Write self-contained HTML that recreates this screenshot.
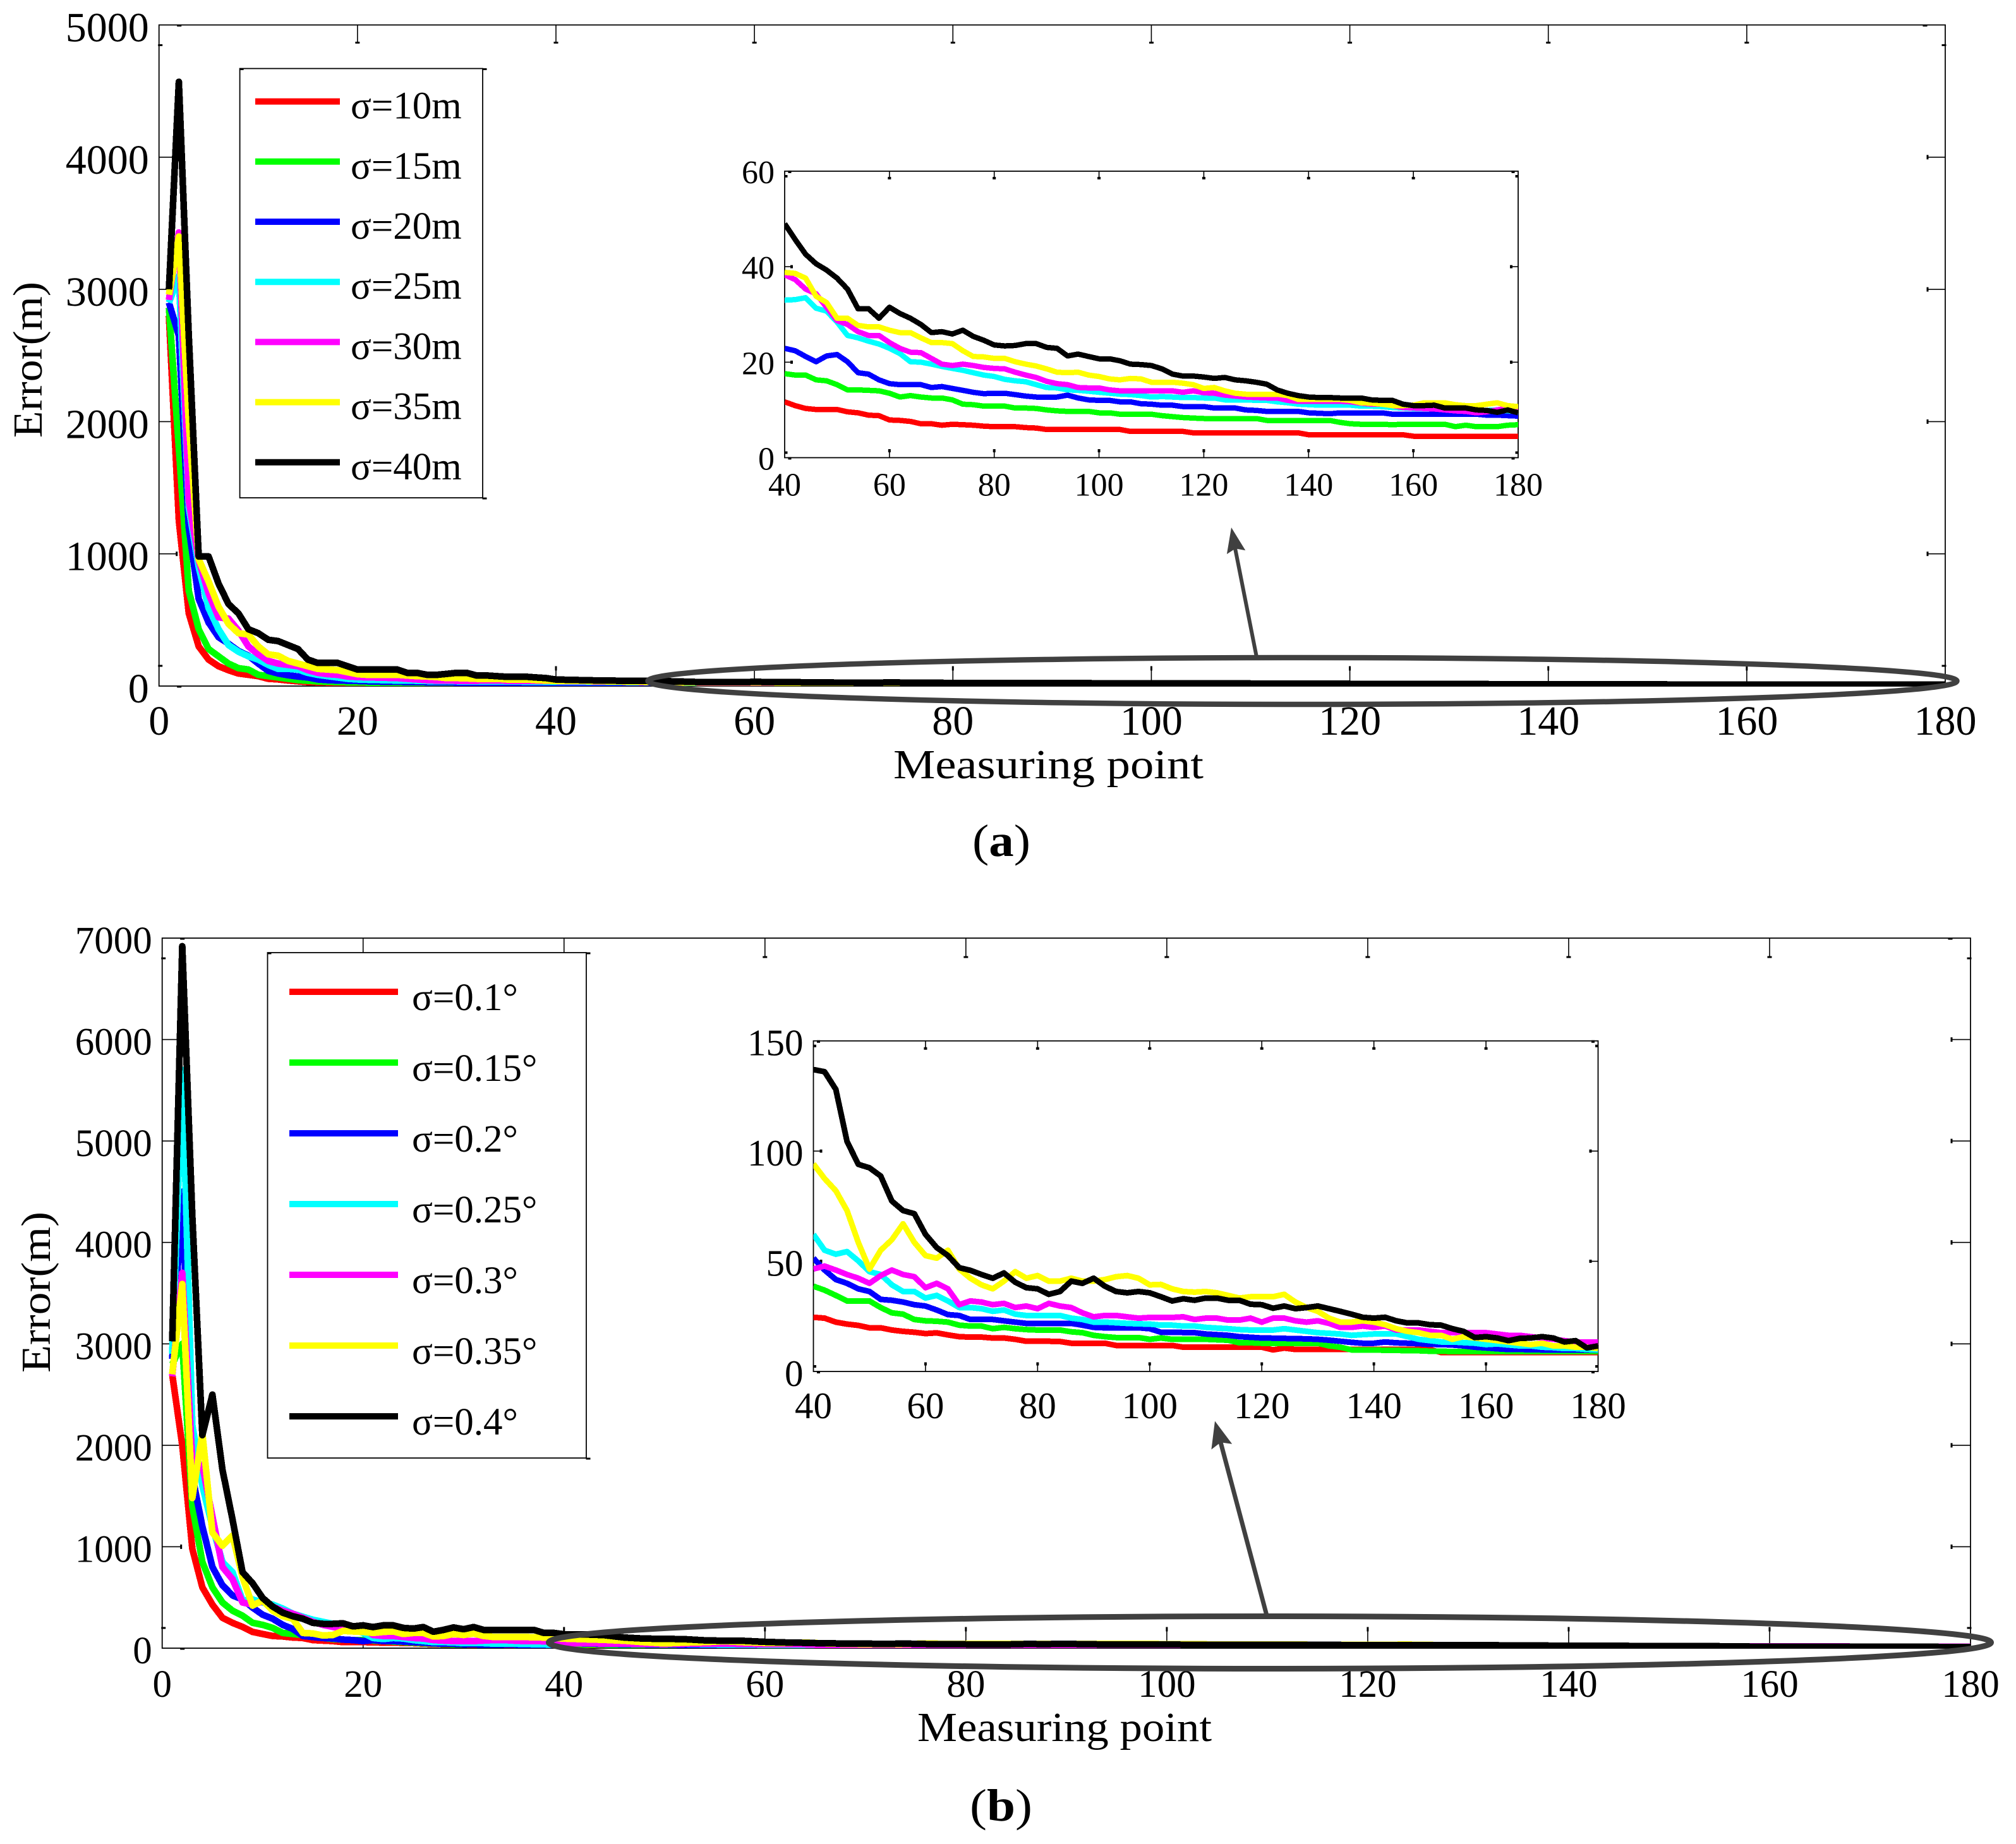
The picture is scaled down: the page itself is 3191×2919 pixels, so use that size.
<!DOCTYPE html>
<html lang="en">
<head>
<meta charset="utf-8">
<title>Error versus measuring point</title>
<style>
html,body{margin:0;padding:0;background:#fff;}
svg{display:block;}
text{font-family:"Liberation Serif","Noto Serif CJK SC",serif;fill:#000;}
</style>
</head>
<body>
<svg id="figure" xmlns="http://www.w3.org/2000/svg" width="3191" height="2919" viewBox="0 0 3191 2919">
  <rect x="0" y="0" width="3191" height="2919" fill="#fff"/>
  <g id="panelA"></g>
  <g id="panelB"></g>

  <g>
    <ellipse cx="2061.5" cy="1078" rx="1036" ry="37" fill="none" stroke="#404040" stroke-width="8.5"/>
    <line x1="1989" y1="1040" x2="1955" y2="868" stroke="#404040" stroke-width="6"/>
    <polygon points="1949,835 1971.3,871.3 1955.5,868.4 1941.9,877.1" fill="#404040"/>
  </g>
  <g>
    <ellipse cx="2010" cy="2600" rx="1141.5" ry="41.5" fill="none" stroke="#404040" stroke-width="9"/>
    <line x1="2005" y1="2557" x2="1932" y2="2283" stroke="#404040" stroke-width="7"/>
    <polygon points="1923,2249.5 1950.2,2285.7 1932,2283.3 1917.4,2294.5" fill="#404040"/>
  </g>

  <text transform="translate(66,693) rotate(-90)" font-size="66" textLength="247" lengthAdjust="spacingAndGlyphs">Error(m)</text>
  <text x="1414" y="1232" font-size="66" textLength="491" lengthAdjust="spacingAndGlyphs">Measuring point</text>
  <text x="1539" y="1355" font-size="72" textLength="92" lengthAdjust="spacingAndGlyphs">(<tspan font-weight="bold">a</tspan>)</text>

  <text transform="translate(79,2173) rotate(-90)" font-size="66" textLength="255" lengthAdjust="spacingAndGlyphs">Error(m)</text>
  <text x="1452" y="2756" font-size="66" textLength="466" lengthAdjust="spacingAndGlyphs">Measuring point</text>
  <text x="1535" y="2882" font-size="72" textLength="99" lengthAdjust="spacingAndGlyphs">(<tspan font-weight="bold">b</tspan>)</text>
</svg>

<script>
// Shared measuring points
const earlyPoints = [1,2,3,4,5,6,7,8,9,10,11,12,13,14,15,16,17,18,19,20,21,22,23,24,25,26,27,28,29,30,31,32,33,34,35,36,37,38,39];
const tailPoints = [40,42,44,46,48,50,52,54,56,58,60,62,64,66,68,70,72,74,76,78,80,82,84,86,88,90,92,94,96,98,100,102,104,106,108,110,112,114,116,118,120,122,124,126,128,130,132,134,136,138,140,142,144,146,148,150,152,154,156,158,160,162,164,166,168,170,172,174,176,178,180];

// Panel (a) tick labels and legend
const mainXTicks = [0,20,40,60,80,100,120,140,160,180];
const insetXTicks = [40,60,80,100,120,140,160,180];
const aMainYTicks = [0,1000,2000,3000,4000,5000];
const aInsetYTicks = [0,20,40,60];
const aLegendLabels = ['σ=10m','σ=15m','σ=20m','σ=25m','σ=30m','σ=35m','σ=40m'];

// Panel (a) values for points 1-39
const aRedEarly = [2800,1250,550,300,200,150,120,95,85,75,55,50,42,36,30,28,26,24,22,20,18,15,14,14,13,13,12,12,12,11,11,11,11,11,11,11,11,11,11];
const aGreenEarly = [2860,1800,720,430,280,225,170,135,125,85,75,65,55,45,40,35,32,30,28,28,26,24,22,22,20,20,20,20,19,19,19,18,18,18,18,18,18,17,17];
const aBlueEarly = [2900,2650,1200,660,480,370,320,265,230,170,115,95,82,72,65,50,45,42,40,38,36,34,32,32,30,30,28,27,27,26,26,25,25,25,24,24,23,23,23];
const aCyanEarly = [2900,3100,1350,900,590,430,310,260,225,200,160,130,130,125,100,85,75,65,55,50,48,46,44,42,42,40,38,38,38,36,36,36,36,34,34,34,33,33,33];
const aMagentaEarly = [2920,3430,1400,950,700,520,510,420,300,240,190,170,160,150,120,100,90,85,72,68,66,64,62,60,55,50,45,42,42,40,40,40,42,42,40,40,40,40,39];
const aYellowEarly = [2960,3400,2000,960,790,600,470,400,390,300,240,230,190,170,150,130,125,120,105,90,85,85,85,85,80,75,72,68,60,60,58,55,55,55,50,50,50,45,42];
const aBlackEarly = [3000,4570,2650,980,980,775,620,550,430,400,350,340,310,280,200,175,175,175,150,125,125,125,125,125,100,100,85,85,92,100,100,80,80,75,70,70,70,65,60];

// Panel (a) values for points 40-180
const aRedTail = [11.7,10.9,10.3,10.1,10.1,10.1,9.6,9.4,8.9,8.8,
7.9,7.8,7.6,7.1,7.1,6.8,7,6.9,6.8,6.6,
6.5,6.5,6.5,6.3,6.2,5.9,5.9,5.9,5.9,5.9,
5.9,5.9,5.9,5.5,5.5,5.5,5.5,5.5,5.5,5.2,
5.2,5.2,5.2,5.2,5.2,5.2,5.2,5.2,5.2,5.2,
4.8,4.8,4.8,4.8,4.8,4.8,4.8,4.8,4.8,4.8,
4.5,4.5,4.5,4.5,4.5,4.5,4.5,4.5,4.5,4.5,
4.5];
const aGreenTail = [17.6,17.3,17.3,16.3,16.1,15.3,14.2,14.2,14.1,14,
13.5,12.7,13,12.7,12.5,12.5,12.1,11.2,11.1,10.8,
10.8,10.8,10.4,10.4,10.3,10,9.8,9.7,9.7,9.7,
9.4,9.4,9.1,9.1,9.1,9.1,8.8,8.6,8.4,8.3,
8.2,8.2,8.2,8.2,8.2,8.2,7.8,7.8,7.8,7.8,
7.8,7.8,7.8,7.4,7.1,7,7,7,6.9,7,
7,7,7,7,6.5,6.8,6.5,6.5,6.5,6.8,
6.9];
const aBlueTail = [22.9,22.4,21.2,20.1,21.3,21.6,20.1,17.8,17.5,16.3,
15.5,15.3,15.3,15.3,14.7,14.9,14.5,14.1,13.7,13.4,
13.5,13.5,13.2,12.9,12.7,12.7,12.7,13.1,12.5,12.1,
12,12,11.7,11.7,11.3,11.2,11,11,10.7,10.7,
10.7,10.4,10.4,10.4,10,9.9,9.7,9.7,9.7,9.7,
9.4,9.3,9.2,9.4,9.4,9.4,9.4,9.4,9.1,9.1,
9.1,9.1,9.1,9.1,9.1,9.1,9.1,8.9,8.9,8.8,
8.7];
const aCyanTail = [33,33.1,33.5,31.3,30.7,28.4,25.6,25.1,24.4,23.8,
22.9,21.8,20.1,20,19.6,19.1,18.7,18.3,17.8,17.3,
17,16.4,16.1,15.9,15.3,14.7,14.6,14.2,14.1,13.9,
13.7,13.5,13.3,13.2,13,12.7,12.8,12.7,12.6,12.6,
12.5,12.5,12.1,12.1,12.1,12,12,11.7,11.5,11.2,
11.1,11,11,11,11,10.8,10.8,10.7,10.5,10.4,
10.3,10.3,10.2,10.1,10,10,9.9,9.9,10,9.8,
9.7];
const aMagentaTail = [38.3,37.3,35.3,34.3,31.5,28.7,27.9,26.4,25.6,25.6,
24.1,22.9,22.1,22,20.8,19.6,19.3,19.6,19.3,18.9,
18.7,18.6,17.9,17.3,16.8,16,15.5,15.3,14.7,14.6,
14.6,14.2,14,14,14,14,14,14,13.7,14,
13.6,13.5,13.1,12.9,12.7,12.6,12.5,12.5,12,11.8,
11.8,11.8,11.8,11.8,11.7,11.4,11.2,11.2,10.9,10.5,
10.4,10.3,10.2,10,9.8,9.7,9.4,9.6,10,10.4,
10.2];
const aYellowTail = [38.8,38.6,37.6,33.8,32.5,29.2,29.2,27.7,27.4,27.4,
26.7,26.2,26.2,25.1,24.1,24.1,23.9,22.4,21.2,21.1,
20.8,20.8,20.1,19.6,19.2,18.6,17.9,17.8,17.9,17.3,
17,16.5,16.3,16.6,16.5,15.8,15.8,15.8,15.6,15.3,
14.5,14.7,14,13.5,13.3,13.3,13.3,13.3,13,12.2,
12.2,12.2,12.2,12.2,12,11.5,11.4,11.2,10.9,10.9,
11,11.5,11.5,11.5,11.1,10.9,10.9,11.2,11.5,10.9,
10.7];
const aBlackTail = [49,45.7,42.6,40.6,39.3,37.6,35.3,31.2,31.2,29.2,
31.5,30.2,29.2,27.9,26.2,26.4,25.9,26.7,25.4,24.6,
23.6,23.4,23.5,23.9,23.9,23.1,22.9,21.3,21.7,21.2,
20.7,20.7,20.3,19.6,19.5,19.3,18.6,17.5,17.1,17.1,
16.9,16.6,16.8,16.3,16.1,15.8,15.4,14.2,13.5,13,
12.7,12.6,12.6,12.5,12.5,12.5,12.1,12,12,11.2,
10.9,10.9,11,10.4,10.4,10.4,10,9.9,9.5,10,
9.4];

// Panel (b) tick labels and legend
const bMainYTicks = [0,1000,2000,3000,4000,5000,6000,7000];
const bInsetYTicks = [0,50,100,150];
const bLegendLabels = ['σ=0.1°','σ=0.15°','σ=0.2°','σ=0.25°','σ=0.3°','σ=0.35°','σ=0.4°'];

// Panel (b) values for points 1-39
const bRedEarly = [2700,2000,980,600,430,300,250,210,160,140,120,115,105,100,80,75,70,60,60,60,58,55,55,52,50,45,42,40,38,38,36,36,34,34,32,32,30,30,28];
const bGreenEarly = [2800,3000,1400,850,600,450,370,320,250,230,200,150,140,130,120,100,90,85,80,80,75,70,65,60,55,50,46,42,40,40,40,38,36,36,34,32,32,30,30];
const bBlueEarly = [2850,4500,1700,1200,800,620,520,480,400,330,290,230,190,120,110,100,95,85,80,70,80,70,70,65,60,55,48,44,44,40,38,36,36,36,35,32,30,28,26];
const bCyanEarly = [2900,5700,2200,1600,1200,850,750,470,480,450,430,390,340,310,280,260,240,220,190,150,100,90,100,95,80,70,60,60,58,50,52,50,45,45,45,42,40,38,35];
const bMagentaEarly = [2680,3700,1850,1800,1300,800,680,450,430,460,410,370,340,300,260,230,210,190,180,190,130,120,120,110,100,95,80,75,70,70,70,75,80,80,75,70,70,68,62];
const bYellowEarly = [2700,3590,1480,2120,1140,1010,1110,700,420,470,370,315,290,150,145,125,130,170,165,160,150,160,165,140,150,150,115,120,140,130,145,120,110,110,110,110,108,105,100];
const bBlackEarly = [3025,6920,4260,2100,2500,1760,1270,750,640,495,410,350,315,290,250,240,240,245,215,225,208,225,225,200,193,208,162,180,204,187,208,180,180,180,180,180,180,150,150];

// Panel (b) values for points 40-180
const bRedTail = [24.6,24.2,22.4,21.5,20.9,19.8,19.8,18.8,18.2,17.8,
17.2,17.5,16.6,15.8,15.6,15.6,15.2,15.2,14.6,13.7,
13.7,13.7,13.6,12.8,12.8,12.8,12.8,11.8,11.8,11.8,
11.8,11.8,11.8,11,11,11,11,11,11,11,
11,9.8,10.6,10,10,10,10,10,10,10,
10,10,10,10,10,10,8.6,8.6,8.6,8.6,
8.6,8.6,8.6,8.6,8.6,8.6,8.6,8.6,8.6,8.6,
8.6];
const bGreenTail = [38.7,36.9,34.5,32,32,32,29,26.6,26,23.6,
23,22.8,22.4,21,20.6,20.6,19.4,20,19.4,19,
18.8,18.8,18.8,18,17.6,16.4,15.8,15.4,15.4,15.4,
14.6,15.2,14.6,14.6,14.6,14.6,14.4,14.2,13,13,
12.8,12.8,12.8,12.8,12.8,12.8,11.6,11,9.8,9.8,
9.8,9.6,9.6,9.4,9.4,9.2,9.2,9,9,9,
9,9,9,9,9,9,9,9,9,9,
9];
const bBlueTail = [51.4,46,41.7,40,37.5,36.3,32.7,32.3,31.5,30.3,
29.7,27.9,25.8,25.4,23.6,23.6,23.6,23,22.4,21.8,
21.8,21.8,21.8,21.8,21,20,19.8,19.8,19.8,19.8,
19.4,17.8,17.8,17.7,17.6,17,16.7,16.4,15.8,15.5,
15.2,15.1,15,14.9,14.8,14.6,14.2,13.7,13.2,12.8,
12.8,13.4,13,12.8,12.6,12.3,12.2,12,11.6,11,
10.7,10.3,10,10,9.9,9.8,9.8,9.8,9.8,9.8,
9.8];
const bCyanTail = [62.2,55,53.2,54.4,50.2,45.3,44,39.3,36.3,36.3,
33.3,34.5,32,29,29,28.5,27.3,27.9,26,25.4,
25.4,25.4,25.4,24.2,23.6,22.4,22.4,22.1,21.8,21.6,
21.5,21,21,20.6,20.6,20,19.7,19.4,19,18.8,
18.8,18.8,19.4,18.8,18.2,17.6,17.3,17,16.4,16.7,
17,17,17,15.8,14.6,14,13.4,13.4,13.1,12.8,
12.2,12.5,12,11.6,11.6,11,10.8,10.4,10.4,10,
9.8];
const bMagentaTail = [46.5,47.8,46,44,42.3,40,43.5,46,44,43,
38,40,37.5,30.3,32,31.5,30.3,30.9,29,29.7,
28.5,30.9,29.7,29,26.6,24.8,25.4,25.4,24.8,24.2,
24.5,24.5,24.5,24.8,23.6,24.2,24.2,23.3,23.3,24.2,
22.4,24.2,24.2,23,22.4,23,21.8,20,20,20.6,
20,20.6,18.8,18.8,18.8,18.2,17.6,17.6,17.6,17.6,
17.6,17,16.4,16.4,15.8,15.2,14.6,14,13.4,13.4,
13.4];
const bYellowTail = [94.2,87.5,82,73,58.6,46.5,55,59.8,67,58.6,
52.6,51.4,55,46.5,42.3,39.3,37.5,41,45.3,42.3,
43.5,41,41,42.3,41,41,41.7,43,43.5,42.3,
39.3,39.5,37.5,36.3,36,36.3,35.7,34.5,33.3,33.9,
33.9,33.9,35,31.5,29,27.3,24.2,22.4,22.4,23,
22.4,21.2,19.4,18.2,17.6,16.4,16.4,14.6,15.8,15.2,
14.6,14,13.4,12.8,12.2,12.8,11.6,11.6,11,11,
10.4];
const bBlackTail = [137,136,128,104.4,94,92.4,88.7,77.3,73,71.6,
62.2,56.2,52.6,47.1,45.9,44,42.3,44.7,40.5,38,
37.5,35,36.3,41,40,42.3,38.7,36.3,35.7,36.3,
35.7,33.9,32,33,32.3,33.3,33.3,32.3,32.3,30.5,
30.3,28.7,29.7,28.5,29,29.7,28.5,27.3,26,24.6,
24.2,24.6,23,22,22,21.2,21,19.4,18.2,15.4,
15.8,15.2,14,15,15.2,15.8,15.2,13.4,14,10.7,
11.6];

const seriesColors = ['#ff0000','#00ff00','#0000ff','#00ffff','#ff00ff','#ffff00','#000000'];
const seriesNames = ['red','green','blue','cyan','magenta','yellow','black'];

const SVG_NS = 'http://www.w3.org/2000/svg';

function linear(d0, d1, r0, r1) {
  return function (v) { return r0 + (v - d0) * (r1 - r0) / (d1 - d0); };
}

function make(parent, tag, attrs, text) {
  const el = document.createElementNS(SVG_NS, tag);
  for (const k in attrs) el.setAttribute(k, attrs[k]);
  if (text !== undefined) el.textContent = text;
  parent.appendChild(el);
  return el;
}

function drawTickMark(g, x1, y1, x2, y2, tipW, tipH, withLine) {
  if (withLine) {
    const ln = make(g, 'line', {x1: x1, y1: y1, x2: x2, y2: y2, stroke: '#000', 'stroke-width': 1.6});
    
    
  }
  const tip = make(g, 'rect', {x: x2 - tipW / 2, y: y2 - tipH / 2, width: tipW, height: tipH, fill: '#000'});
  
  
}

function drawAxes(root, box, xTicks, yTicks, xDomain, yDomain, style) {
  const sx = linear(xDomain[0], xDomain[1], box.left, box.right);
  const sy = linear(yDomain[0], yDomain[1], box.bottom, box.top);

  const frame = make(root, 'rect', {x: box.left, y: box.top, width: box.right - box.left, height: box.bottom - box.top, fill: '#fff', stroke: '#000', 'stroke-width': 1.8});
  
  

  const tickGroup = make(root, 'g', {});
  
  

  const L = style.tickLen;
  xTicks.forEach(function (t, i) {
    const x = sx(t);
    if (i > 0 && i < xTicks.length - 1) {
      drawTickMark(tickGroup, x, box.top, x, box.top + L, style.tipLong, style.tipShort, true);
      drawTickMark(tickGroup, x, box.bottom, x, box.bottom - L, style.tipShort, style.tipLong, true);
    }
    const label = make(root, 'text', {x: x, y: box.bottom + style.xLabelOffset, 'font-size': style.fontSize, 'text-anchor': 'middle'}, String(t));
    
    
  });
  yTicks.forEach(function (t, i) {
    const y = sy(t);
    if (i > 0 && i < yTicks.length - 1) {
      drawTickMark(tickGroup, box.left, y, box.left + L, y, style.tipShort, style.tipLong, true);
      drawTickMark(tickGroup, box.right, y, box.right - L, y, style.tipShort, style.tipLong, true);
    }
    const label = make(root, 'text', {x: box.left - style.yLabelGap, y: y + style.yLabelOffset, 'font-size': style.fontSize, 'text-anchor': 'end'}, String(t));
    
    
  });

  const c = style.cornerOffset;
  drawTickMark(tickGroup, 0, 0, box.left + c, box.top + 1, style.tipLong, style.tipShort, false);
  drawTickMark(tickGroup, 0, 0, box.right - c, box.top + 1, style.tipLong, style.tipShort, false);
  drawTickMark(tickGroup, 0, 0, box.left + c, box.bottom + 1, style.tipLong, style.tipShort, false);
  drawTickMark(tickGroup, 0, 0, box.right - c, box.bottom + 1, style.tipLong, style.tipShort, false);
  drawTickMark(tickGroup, 0, 0, box.left + 2, box.top + c, style.tipLong, style.tipShort, false);
  drawTickMark(tickGroup, 0, 0, box.right - 2, box.top + c, style.tipLong, style.tipShort, false);
  drawTickMark(tickGroup, 0, 0, box.left + 2, box.bottom - c, style.tipLong, style.tipShort, false);
  drawTickMark(tickGroup, 0, 0, box.right - 2, box.bottom - c, style.tipLong, style.tipShort, false);

  return {sx: sx, sy: sy};
}

function drawSeries(root, box, scales, xs, series, strokeWidth, prefix, clipId) {
  const defs = make(root, 'defs', {});
  const clip = make(defs, 'clipPath', {id: clipId});
  make(clip, 'rect', {x: box.left, y: box.top, width: box.right - box.left, height: box.bottom - box.top});
  const g = make(root, 'g', {'clip-path': 'url(#' + clipId + ')'});
  
  
  series.forEach(function (values, i) {
    const pts = values.map(function (v, k) {
      return scales.sx(xs[k]).toFixed(1) + ',' + scales.sy(v).toFixed(1);
    }).join(' ');
    const line = make(g, 'polyline', {points: pts, fill: 'none', stroke: seriesColors[i], 'stroke-width': strokeWidth, 'stroke-linejoin': 'round', 'shape-rendering': 'crispEdges'});
    
    
  });
}

function drawLegend(root, box, labels, layout, prefix) {
  const g = make(root, 'g', {});
  
  
  const frame = make(g, 'rect', {x: box.left, y: box.top, width: box.right - box.left, height: box.bottom - box.top, fill: '#fff', stroke: '#000', 'stroke-width': 1.8});
  
  
  drawTickMark(g, 0, 0, box.left + 3, box.top + 1, 6, 3, false);
  drawTickMark(g, 0, 0, box.right + 3, box.top + 1, 7, 3, false);
  drawTickMark(g, 0, 0, box.right + 3, box.bottom + 1, 7, 3, false);
  labels.forEach(function (label, i) {
    const y = layout.firstY + layout.stepY * i;
    const swatch = make(g, 'line', {x1: layout.lineX1, y1: y, x2: layout.lineX2, y2: y, stroke: seriesColors[i], 'stroke-width': 10});
    
    
    const text = make(g, 'text', {x: layout.textX, y: y + layout.textDy, 'font-size': layout.fontSize}, label);
    
    
  });
}

function fullSeries(early, tail) { return early.concat(tail); }

// Panel (a)
(function () {
  const root = document.getElementById('panelA');
  const box = {left: 251.7, right: 3079, top: 39.5, bottom: 1086};
  const scales = drawAxes(root, box, mainXTicks, aMainYTicks, [0, 180], [0, 5000],
    {name: 'panel-a-main', tickLen: 28, tipLong: 7, tipShort: 3, xLabelOffset: 77, yLabelGap: 16, yLabelOffset: 26, fontSize: 66, cornerOffset: 32});
  const xs = earlyPoints.concat(tailPoints);
  drawSeries(root, box, scales, xs, [
    fullSeries(aRedEarly, aRedTail), fullSeries(aGreenEarly, aGreenTail), fullSeries(aBlueEarly, aBlueTail),
    fullSeries(aCyanEarly, aCyanTail), fullSeries(aMagentaEarly, aMagentaTail), fullSeries(aYellowEarly, aYellowTail),
    fullSeries(aBlackEarly, aBlackTail)
  ], 10.5, 'panel-a-main', 'clipA');
  drawLegend(root, {left: 379.6, right: 764, top: 108.5, bottom: 788}, aLegendLabels,
    {firstY: 160.6, stepY: 95.2, lineX1: 404, lineX2: 538, textX: 555, textDy: 27, fontSize: 61}, 'panel-a');

  const ibox = {left: 1242, right: 2403, top: 271, bottom: 724.5};
  const iscales = drawAxes(root, ibox, insetXTicks, aInsetYTicks, [40, 180], [0, 60],
    {name: 'panel-a-inset', tickLen: 11, tipLong: 5, tipShort: 4, xLabelOffset: 60, yLabelGap: 16, yLabelOffset: 19, fontSize: 52, cornerOffset: 8});
  drawSeries(root, ibox, iscales, tailPoints,
    [aRedTail, aGreenTail, aBlueTail, aCyanTail, aMagentaTail, aYellowTail, aBlackTail], 8.5, 'panel-a-inset', 'clipAInset');
})();

// Panel (b)
(function () {
  const root = document.getElementById('panelB');
  const box = {left: 256.7, right: 3119, top: 1485, bottom: 2609};
  const scales = drawAxes(root, box, mainXTicks, bMainYTicks, [0, 180], [0, 7000],
    {name: 'panel-b-main', tickLen: 30, tipLong: 7, tipShort: 3, xLabelOffset: 77, yLabelGap: 16, yLabelOffset: 24, fontSize: 61, cornerOffset: 32});
  const xs = earlyPoints.concat(tailPoints);
  drawSeries(root, box, scales, xs, [
    fullSeries(bRedEarly, bRedTail), fullSeries(bGreenEarly, bGreenTail), fullSeries(bBlueEarly, bBlueTail),
    fullSeries(bCyanEarly, bCyanTail), fullSeries(bMagentaEarly, bMagentaTail), fullSeries(bYellowEarly, bYellowTail),
    fullSeries(bBlackEarly, bBlackTail)
  ], 10.5, 'panel-b-main', 'clipB');
  drawLegend(root, {left: 423.5, right: 928, top: 1508, bottom: 2308}, bLegendLabels,
    {firstY: 1570, stepY: 112, lineX1: 458, lineX2: 630, textX: 652, textDy: 29, fontSize: 61}, 'panel-b');

  const ibox = {left: 1287.5, right: 2529.5, top: 1647.7, bottom: 2171};
  const iscales = drawAxes(root, ibox, insetXTicks, bInsetYTicks, [40, 180], [0, 150],
    {name: 'panel-b-inset', tickLen: 12, tipLong: 5, tipShort: 4, xLabelOffset: 74, yLabelGap: 16, yLabelOffset: 23, fontSize: 59, cornerOffset: 8});
  drawSeries(root, ibox, iscales, tailPoints,
    [bRedTail, bGreenTail, bBlueTail, bCyanTail, bMagentaTail, bYellowTail, bBlackTail], 9, 'panel-b-inset', 'clipBInset');
})();
</script>
</body>
</html>
